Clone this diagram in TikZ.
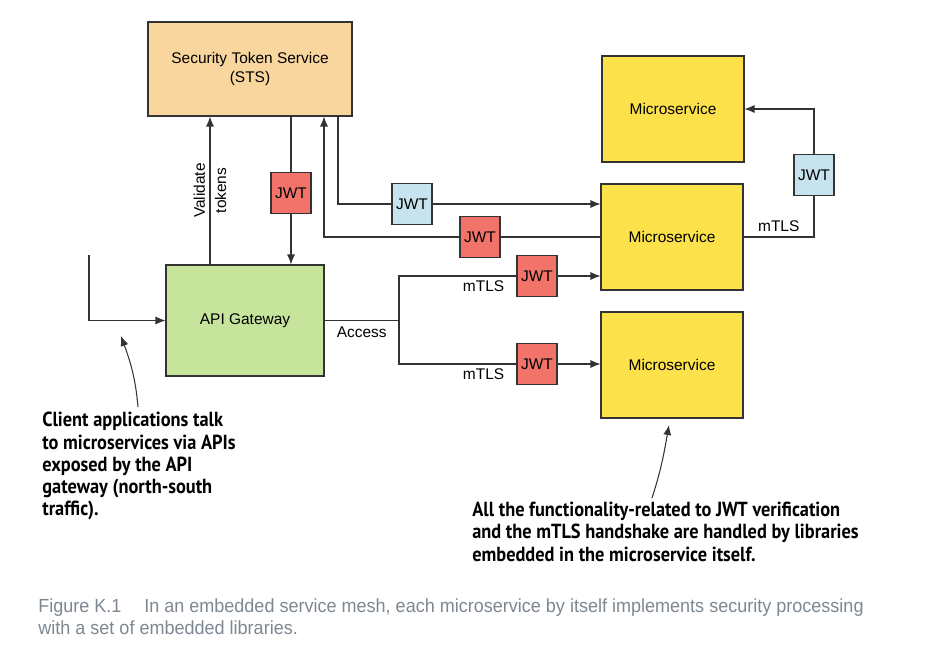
\documentclass[tikz,border=0pt]{standalone}
\usepackage{fontspec}
\setmainfont{Liberation Sans}
\newfontfamily\notefont{PT Sans}[FakeStretch=0.9]
\newfontfamily\capfont{Liberation Sans}[FakeStretch=0.95]
\usetikzlibrary{arrows.meta,positioning,calc}
\definecolor{Ink}{HTML}{333333}
\definecolor{StsFill}{HTML}{F9D69D}
\definecolor{GwFill}{HTML}{C6E49B}
\definecolor{MsFill}{HTML}{FCE14B}
\definecolor{JwtRed}{HTML}{F1736A}
\definecolor{JwtBlue}{HTML}{C7E4EE}
\definecolor{CapGray}{HTML}{7D8792}
\tikzset{
  >={Latex[length=2mm,width=1.6mm]},
  box/.style={draw=Ink,line width=.6pt,align=center,inner sep=2pt,font=\fontsize{8.8}{11}\selectfont},
  service/.style={box,fill=MsFill,minimum width=2.84cm,minimum height=2.12cm},
  jwtred/.style={box,fill=JwtRed,minimum width=.8cm,minimum height=.82cm},
  jwtblue/.style={jwtred,fill=JwtBlue},
  link/.style={draw=Ink,line width=.6pt},
  lab/.style={font=\fontsize{8.8}{11}\selectfont,inner sep=1.5pt},
  note/.style={align=left,inner sep=0pt,font=\notefont\bfseries\fontsize{11.6}{12.6}\selectfont}
}
\begin{document}
\begin{tikzpicture}[x=.02cm,y=-.02cm]
  \useasboundingbox (0,0) rectangle (927,651);
  % boxes
  \node[box,fill=StsFill,minimum width=4.08cm,minimum height=1.88cm] (sts) at (250,69) {Security Token Service\\(STS)};
  \node[box,fill=GwFill,minimum width=3.16cm,minimum height=2.22cm] (api) at (245,320.5) {API Gateway};
  \node[service] (msTop) at (673,109) {Microservice};
  \node[service] (msMid) at (672,237) {Microservice};
  \node[service] (msBot) at (672,365) {Microservice};
  % token boxes
  \node[jwtred] (jwtA) at (291,193) {JWT};
  \node[jwtblue] (jwtB) at (412,204) {JWT};
  \node[jwtred] (jwtC) at (480,237) {JWT};
  \node[jwtred] (jwtD) at (537,276) {JWT};
  \node[jwtred] (jwtF) at (537,364) {JWT};
  \node[jwtblue] (jwtE) at (814,175) {JWT};
  \coordinate (val) at (210,193);
  \coordinate (outB) at (338,203);
  \coordinate (inC) at (324,237);
  \coordinate (fork) at (399,320.5);
  \coordinate (client) at (89,255);
  % connectors
  \draw[link,->] (api.north -| val) -- node[lab,rotate=90,align=center] {Validate\\[1pt]tokens} (sts.south -| val);
  \draw[link] (sts.south -| jwtA) -- (jwtA.north);
  \draw[link,->] (jwtA.south) -- (api.north -| jwtA);
  \draw[link] (sts.south -| outB) |- (jwtB.west);
  \draw[link,->] (jwtB.east) -- (msMid.west |- jwtB);
  \draw[link] (msMid.west) -- (jwtC.east);
  \draw[link,->] (jwtC.west) -| (sts.south -| inC);
  \draw[link] (api.east) -- node[lab,below=2pt] {Access} (fork);
  \draw[link] (fork) |- node[lab,pos=.86,below=1pt] {mTLS} (jwtD.west);
  \draw[link,->] (jwtD.east) -- (msMid.west |- jwtD);
  \draw[link] (fork) |- node[lab,pos=.86,below=1pt] {mTLS} (jwtF.west);
  \draw[link,->] (jwtF.east) -- (msBot.west |- jwtF);
  \draw[link] (msMid.east) -| node[lab,pos=.25,above=1pt] {mTLS} (jwtE.south);
  \draw[link,->] (jwtE.north) |- (msTop.east);
  \draw[link,->] (client) |- (api.west);
  % notes
  \node[note,anchor=north west] (noteL) at (42,412) {Client applications talk\\to microservices via APIs\\exposed by the API\\gateway (north-south\\traffic).};
  \node[note,anchor=north west] (noteR) at (472,502) {All the functionality-related to JWT verification\\and the mTLS handshake are handled by libraries\\embedded in the microservice itself.};
  \coordinate (tipL) at (121,336);
  \coordinate (tipR) at (669,425);
  \draw[link,->] (noteL.north west -| 138,0) ++(0,-5) to[out=95,in=-70] (tipL);
  \draw[link,->] (noteR.north west -| 652,0) ++(0,-4) to[out=72,in=-100] (tipR);
  % caption
  \node[anchor=north west,inner sep=0pt,align=left,text=CapGray,font=\capfont\fontsize{10.8}{12.8}\selectfont] (caption) at (38,598)
    {Figure K.1\hspace{1.2em}In an embedded service mesh, each microservice by itself implements security processing\\with a set of embedded libraries.};
\end{tikzpicture}
\end{document}
